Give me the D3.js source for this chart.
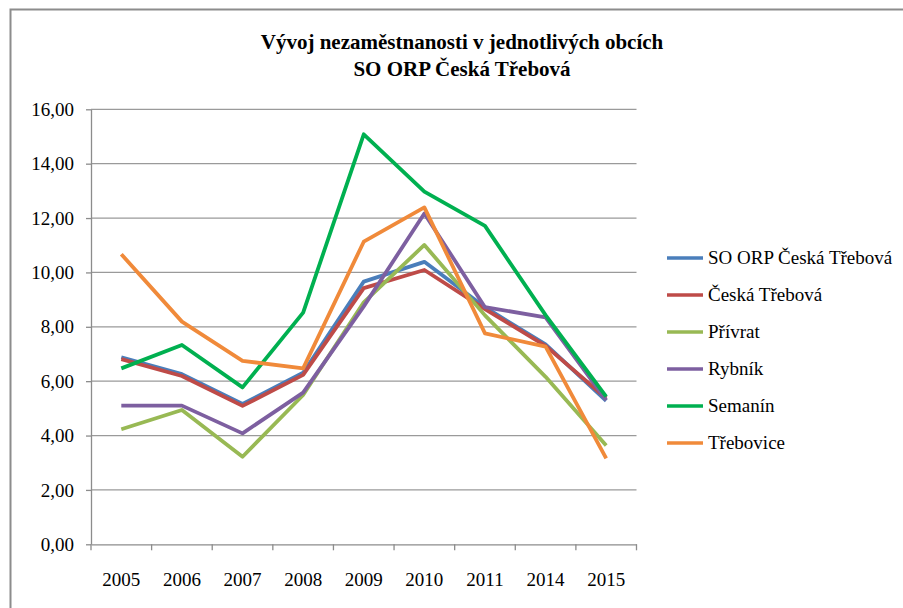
<!DOCTYPE html>
<html>
<head>
<meta charset="utf-8">
<script src="https://cdn.jsdelivr.net/npm/d3@7"></script>
</head>
<body style="margin:0; background:#fff">
<div id="line-chart"></div>
<script>
// Data
const years = ["2005", "2006", "2007", "2008", "2009", "2010", "2011", "2014", "2015"];
const yTicks = [0, 2, 4, 6, 8, 10, 12, 14, 16];

const soOrp = [6.88, 6.26, 5.16, 6.31, 9.66, 10.39, 8.72, 7.35, 5.28];
const ceskaTrebova = [6.81, 6.19, 5.09, 6.23, 9.42, 10.09, 8.65, 7.30, 5.37];
const privrat = [4.23, 4.94, 3.22, 5.49, 8.90, 11.01, 8.42, 6.16, 3.63];
const rybnik = [5.10, 5.10, 4.08, 5.58, 8.75, 12.17, 8.72, 8.35, 5.30];
const semanin = [6.47, 7.33, 5.77, 8.52, 15.08, 12.97, 11.71, 8.43, 5.43];
const trebovice = [10.67, 8.19, 6.75, 6.47, 11.13, 12.39, 7.76, 7.27, 3.16];

const series = [
  { name: "SO ORP Česká Třebová", values: soOrp, color: "#4A7EBB" },
  { name: "Česká Třebová", values: ceskaTrebova, color: "#BE4B48" },
  { name: "Přívrat", values: privrat, color: "#98B954" },
  { name: "Rybník", values: rybnik, color: "#7D5FA0" },
  { name: "Semanín", values: semanin, color: "#00B050" },
  { name: "Třebovice", values: trebovice, color: "#F08A3A" }
];

const FONT = '"Liberation Serif"';
const width = 903, height = 608;
const plot = { left: 91, right: 636.5, top: 109.3, bottom: 544.3 };

const svg = d3.select("#line-chart")
  .append("svg")
  .attr("width", width)
  .attr("height", height);

// Outer frame
svg.append("rect")
  .attr("x", 10.5).attr("y", 9.5)
  .attr("width", 900).attr("height", 620)
  .attr("fill", "none")
  .attr("stroke", "#8c8c8c")
  .attr("stroke-width", 2);

// Title
const title = svg.append("text")
  .attr("text-anchor", "middle")
  .style("font-family", FONT)
  .style("font-size", "21px")
  .style("font-weight", "bold");
title.append("tspan").attr("x", 462).attr("y", 49)
  .style("font-family", FONT).text("Vývoj nezaměstnanosti v jednotlivých obcích");
title.append("tspan").attr("x", 462).attr("y", 76)
  .style("font-family", FONT).text("SO ORP Česká Třebová");

// Scales
const x = d3.scaleBand()
  .domain(years)
  .range([plot.left, plot.right])
  .padding(0);

const y = d3.scaleLinear()
  .domain([0, 16])
  .range([plot.bottom, plot.top]);

const fmt = d3.formatLocale({ decimal: ",", thousands: " ", grouping: [3], currency: ["", ""] }).format(".2f");

// Gridlines
svg.append("g")
  .selectAll("line")
  .data(yTicks.filter(d => d > 0))
  .enter().append("line")
  .attr("x1", plot.left).attr("x2", plot.right)
  .attr("y1", d => y(d)).attr("y2", d => y(d))
  .attr("stroke", "#9a9a9a")
  .attr("stroke-width", 1.3);

// Y axis
const yAxis = svg.append("g")
  .attr("transform", `translate(${plot.left}, 0)`)
  .call(d3.axisLeft(y).tickValues(yTicks).tickFormat(fmt).tickSize(5).tickSizeOuter(0).tickPadding(12))
  .attr("font-family", null)
  .attr("font-size", null);
yAxis.select(".domain").attr("stroke", "#8c8c8c").attr("stroke-width", 1.3);
yAxis.selectAll(".tick line").attr("stroke", "#8c8c8c").attr("stroke-width", 1.3);
yAxis.selectAll("text")
  .style("font-family", FONT)
  .style("font-size", "19px")
  .attr("fill", "#000");

// X axis
const xAxis = svg.append("g")
  .attr("transform", `translate(0, ${plot.bottom})`)
  .call(d3.axisBottom(x).tickSize(0).tickPadding(28))
  .attr("font-family", null)
  .attr("font-size", null);
xAxis.select(".domain").attr("stroke", "#8c8c8c").attr("stroke-width", 1.3);
xAxis.selectAll("text")
  .style("font-family", FONT)
  .style("font-size", "19px")
  .attr("fill", "#000");

// X tick marks at category boundaries
svg.append("g")
  .selectAll("line")
  .data(years.map(d => x(d)).concat([x(years[years.length - 1]) + x.bandwidth()]))
  .enter().append("line")
  .attr("x1", d => d).attr("x2", d => d)
  .attr("y1", plot.bottom).attr("y2", plot.bottom + 6)
  .attr("stroke", "#8c8c8c")
  .attr("stroke-width", 1.3);

// Lines
const line = d3.line()
  .x((d, i) => x(years[i]) + x.bandwidth() / 2)
  .y(d => y(d));

svg.append("g")
  .selectAll("path")
  .data(series)
  .enter().append("path")
  .attr("d", d => line(d.values))
  .attr("fill", "none")
  .attr("stroke", d => d.color)
  .attr("stroke-width", 3.8)
  .attr("stroke-linejoin", "round");

// Legend
const legend = svg.append("g")
  .selectAll("g")
  .data(series)
  .enter().append("g")
  .attr("transform", (d, i) => `translate(667, ${258 + i * 37})`);

legend.append("line")
  .attr("x1", 0).attr("x2", 36)
  .attr("stroke", d => d.color)
  .attr("stroke-width", 3.6);

legend.append("text")
  .attr("x", 41)
  .attr("y", 6)
  .style("font-family", FONT)
  .style("font-size", "19px")
  .text(d => d.name);
</script>
</body>
</html>
